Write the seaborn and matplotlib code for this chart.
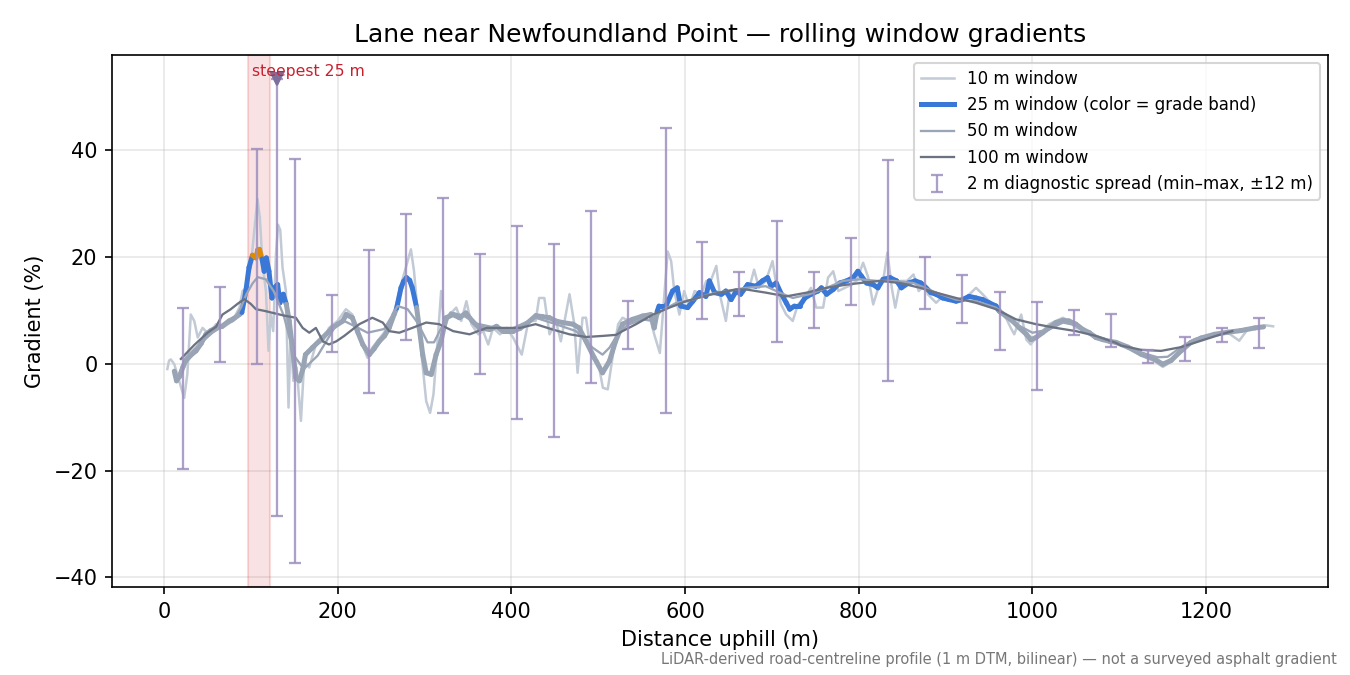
import numpy as np
import pandas as pd
import matplotlib
matplotlib.use("Agg")
import matplotlib.pyplot as plt
from matplotlib.collections import LineCollection
from matplotlib.lines import Line2D
import seaborn as sns

# ---------------- data ----------------
trace_10 = [(4,-1.0),(6,0.6),(8,0.8),(12,-0.1),(17.6,-3.2),(23.4,-6.4),(27,-2.0),(31,9.2),(35,8.0),(39,4.9),
    (44.5,6.7),(52,5.5),(60,7.4),(67.5,6.7),(79,8.0),(87,10.5),(90.6,13.6),(94.4,14.2),(100,18.0),(104,24.8),
    (107.8,30.8),(110.5,27.3),(113.6,18.6),(117.5,13.6),(120.5,2.4),(123,9.2),(125.9,6.1),(129,20.4),(131.5,26.0),
    (134,25.0),(136.6,18.0),(140.5,13.6),(143.5,-8.2),(146,6.1),(149,-3.2),(152.8,-0.7),(157.8,-10.7),(161.6,0.5),
    (167.4,-0.7),(175,3.6),(183,4.2),(190,6.7),(200,8.0),(209.6,10.2),(217,9.2),(219,8.0),(227,4.2),(234.5,1.1),
    (240,3.0),(252,5.5),(263,8.0),(271,13.6),(278.6,18.0),(284.4,21.4),(288,17.3),(292,9.8),(297,1.1),(302,-7.0),
    (306.5,-9.2),(310.4,-5.7),(315.4,4.9),(319.2,13.6),(323,6.7),(329,9.2),(336.6,10.5),(342.4,8.0),(348.3,11.7),
    (354,7.4),(362,5.5),(367.6,6.1),(373.4,3.6),(379,6.7),(387,5.5),(394.5,6.7),(402,4.9),(412,1.7),(419.7,8.0),
    (428,8.0),(432,12.3),(438,12.3),(444,5.5),(451.3,8.0),(457,4.2),(467,13.0),(472.5,7.4),(476.3,-1.7),(482,8.6),
    (486,8.6),(492,1.7),(499.7,0.5),(505.4,-4.5),(511,-4.8),(517,1.7),(523,7.4),(528,8.6),(536,8.0),(543.6,8.6),
    (551.3,9.2),(559,9.2),(564.5,5.5),(571,2.0),(575,10.5),(580,21.0),(584,19.2),(587.6,13.6),(593.5,9.2),(599,13.6),
    (605,10.5),(611,13.6),(618.6,13.0),(624.5,15.5),(628,14.8),(636,18.3),(640,13.0),(647,8.0),(651.5,13.6),(657,13.6),
    (664,13.6),(674,14.2),(679.5,17.6),(685,14.2),(693,15.5),(700.7,19.2),(705,14.8),(710.5,11.1),(716.5,9.2),(724,8.0),
    (730,11.1),(737.6,12.3),(745,14.2),(751,10.5),(759,10.5),(764.6,16.1),(770.6,17.3),(776.4,13.6),(784,14.2),
    (791.7,14.8),(797.5,15.5),(805,18.9),(811,16.1),(816.6,11.1),(822.5,14.2),(828,15.5),(833,20.8),(838,14.2),
    (842,10.5),(848,15.5),(855.6,15.5),(863,16.7),(869,13.6),(876.6,14.8),(879.5,13.0),(889,11.4),(896.6,12.6),
    (904,12.3),(912,11.7),(923,12.3),(935,14.2),(942.6,13.0),(950,11.7),(960,9.8),(967.6,9.2),(975,6.7),(979,5.5),
    (987,9.2),(993,4.5),(998,3.6),(1004,4.9),(1011.6,6.1),(1019,7.4),(1027,8.0),(1035,8.6),(1042,8.0),(1050,6.7),
    (1058,6.4),(1065.5,5.5),(1073,4.9),(1081,4.4),(1088.5,4.2),(1096,3.8),(1110,3.0),(1125,1.5),(1140,0.5),
    (1150,-0.6),(1160,0.4),(1171,2.2),(1182.5,4.0),(1194,4.9),(1210,5.6),(1225,5.8),(1238,4.3),(1248,6.5),
    (1258,6.6),(1268,7.2),(1277,7.0)]

trace_25 = [(12,-1.4),(14.6,-3.2),(18,-2.4),(22,-0.6),(25,0.5),(31,1.6),(37,2.4),(43,3.8),(48.4,5.5),(54,6.2),
    (60,6.7),(67,7.0),(75,8.0),(81,8.5),(87,9.2),(89.8,9.6),(92,11.5),(94.4,13.6),(98,18.0),(102,20.3),(106,19.8),
    (108,21.3),(110,21.4),(113,19.6),(115.5,17.3),(118,19.8),(121,17.3),(124.4,12.3),(127,14.2),(131,14.8),
    (133.6,11.4),(137.4,13.0),(141,11.1),(144.3,8.0),(148,3.0),(152,-2.6),(156,-3.2),(160,-1.0),(163,1.7),(171,3.0),
    (183,4.9),(194,6.7),(206,8.0),(210,9.2),(217,8.6),(223,6.0),(229,3.6),(236.5,1.7),(242,2.8),(248,4.2),(254,5.2),
    (259.4,6.7),(265,9.2),(268,10.4),(273,14.2),(276,15.4),(279.4,16.1),(283,15.6),(286,14.2),(291,10.5),(294,6.7),
    (298,1.7),(302,-1.7),(307.8,-2.0),(313.4,1.7),(319,4.2),(325,8.6),(333,9.2),(340.3,8.6),(347.7,9.5),(355,8.0),
    (363,6.7),(375,6.4),(383,7.0),(390,6.1),(401.5,6.1),(410,6.6),(417,7.4),(428.3,9.0),(436,8.8),(444,8.6),(451,8.0),
    (459,7.7),(471,7.4),(478,6.7),(486,4.2),(495.5,1.1),(505,-1.7),(513,0.5),(520,4.2),(528,7.4),(539.5,8.3),
    (551,8.9),(560.6,9.2),(564.5,6.7),(568,9.8),(570,10.8),(578,10.8),(585.6,13.6),(591,14.2),(595,10.8),(603,10.5),
    (609,11.7),(616.6,13.3),(624,12.6),(628,15.5),(634,13.3),(642,13.0),(647,13.6),(653,12.0),(659,13.6),(664,13.0),
    (672,14.8),(681.6,14.5),(689,15.5),(695,16.1),(699,14.5),(705,15.1),(711,13.0),(716.5,11.4),(720.5,10.2),
    (726,10.8),(732,10.8),(738,12.3),(745,13.0),(753,13.6),(757,14.2),(763,13.0),(770.6,13.9),(778,15.1),(786,15.5),
    (793.5,16.1),(799,17.3),(803,16.4),(809,15.1),(816.6,14.8),(822,14.2),(828,15.8),(836,16.1),(843.6,15.5),
    (849,14.2),(857,15.1),(865,15.5),(871.6,15.1),(877.5,14.2),(883,13.3),(889,13.0),(896.6,12.3),(904,12.0),
    (912,11.7),(919.5,12.0),(927,12.6),(935,12.3),(942.6,12.0),(950,11.4),(958,10.8),(962,9.8),(969.5,8.9),(977,8.0),
    (985,6.7),(993,5.5),(998.3,4.5),(1004,4.9),(1011.6,5.8),(1019,6.7),(1027,7.7),(1035,8.1),(1042,8.0),(1050,7.4),
    (1058,6.4),(1065.5,5.8),(1073,4.9),(1081,4.5),(1088.5,4.2),(1096,4.0),(1110,3.1),(1125,1.8),(1140,0.9),
    (1150,-0.1),(1159.5,0.6),(1171,2.4),(1182.5,4.0),(1194,4.8),(1209.5,5.5),(1225,5.9),(1240,6.2),(1256,6.7),
    (1266,6.9)]

trace_50 = [(12,-1.3),(16,-2.6),(25,1.1),(40.6,3.6),(56,5.8),(71.5,7.4),(80,8.0),(88.7,10.5),(95,13.0),(102,15.0),
    (108,16.2),(117.4,15.8),(126.7,13.5),(138,9.0),(150,1.5),(161,-1.0),(177,1.5),(190,5.0),(200,7.7),(207.6,8.0),
    (220,7.0),(234.5,5.8),(253.7,6.5),(262,8.8),(269,10.8),(280.6,10.2),(292,7.7),(303.6,4.0),(311,4.0),(322.5,7.7),
    (330,9.6),(345,9.0),(360,7.5),(380,6.8),(400,6.5),(428,8.6),(451,7.4),(474.5,6.1),(493.6,3.0),(505,1.7),(513,3.0),
    (524.6,6.1),(536,7.4),(551,8.3),(563,8.0),(572,9.8),(590,11.4),(609,12.0),(628,13.0),(647.6,13.6),(670,14.2),
    (693,14.5),(709,13.3),(724,12.3),(743,13.0),(763,14.2),(782,15.5),(801.6,15.8),(820.7,15.5),(840,15.5),
    (863,15.1),(889,13.3),(912,12.0),(935,11.7),(958,10.5),(981,7.4),(1000,5.8),(1019,6.4),(1035,7.7),(1050,7.2),
    (1073,5.2),(1096,3.9),(1102,3.7),(1125,2.1),(1144,1.2),(1155.6,1.3),(1171,3.1),(1186.5,4.6),(1206,5.4),
    (1225,5.9),(1244,6.5),(1253,6.7)]

trace_100 = [(19.6,0.9),(35,3.5),(50.3,5.8),(60,6.9),(67.5,9.2),(77,10.2),(84.8,11.2),(92.5,12.1),(100,11.2),
    (106,10.2),(115.5,9.9),(138.5,9.0),(152,8.6),(159.8,6.7),(167.4,5.8),(175,6.7),(183,4.2),(190,3.6),(198.6,4.2),
    (207.6,5.2),(225,7.4),(240,8.6),(252,7.7),(259.4,6.1),(271,5.8),(286,6.7),(302,7.7),(317,7.4),(333,6.1),(352,5.5),
    (371.5,6.7),(390.6,6.7),(410,6.7),(428,7.4),(447.6,6.4),(467,5.5),(486,5.0),(505,5.2),(520.6,5.4),(528,6.1),
    (543.6,7.4),(563,9.2),(582,10.5),(601.6,11.7),(621,12.6),(640,13.3),(659,13.9),(670,13.9),(693,13.3),
    (716.5,12.6),(740,13.3),(763,14.2),(786,14.8),(801.6,15.1),(824.5,15.5),(847.6,15.1),(870.6,14.2),(889,13.3),
    (912,12.3),(935,11.4),(958,10.2),(981,8.3),(1004,7.4),(1027,6.7),(1050,6.1),(1073,5.2),(1096,3.9),(1102,3.4),
    (1125,2.6),(1148,2.4),(1171,3.1),(1194,4.3),(1217,5.5),(1230,6.1)]

# 2 m diagnostic spread (min-max within +-12 m)
spread_x = [21.5, 64.5, 107, 129.7, 150.5, 193.4, 235.6, 278.6, 321, 364, 406.4, 449.4, 491.6, 534.6, 578,
            620, 662.4, 705.4, 748, 791, 833.6, 876, 918.8, 962.6, 1005, 1047.3, 1090.4, 1133, 1176, 1218, 1260.5]
spread_lo = [-19.7, 0.3, 0.0, -28.5, -37.3, 2.1, -5.5, 4.5, -9.3, -2.0, -10.4, -13.7, -3.7, 2.8, -9.3,
             8.3, 9.0, 4.1, 6.7, 11.0, -3.2, 10.3, 7.7, 2.5, -4.9, 5.4, 3.1, 0.1, 0.6, 4.0, 3.0]
spread_hi = [10.5, 14.3, 40.2, 53.3, 38.3, 12.8, 21.2, 28.0, 31.0, 20.6, 25.8, 22.4, 28.5, 11.8, 44.1,
             22.7, 17.2, 26.7, 17.2, 23.5, 38.1, 20.0, 16.6, 13.5, 11.6, 10.1, 9.3, 2.6, 5.0, 6.7, 8.5]
steep_index = 3
steep_window = (97, 122)
grade_bands = [10, 20]

title = "Lane near Newfoundland Point \u2014 rolling window gradients"
footer = "LiDAR-derived road-centreline profile (1 m DTM, bilinear) \u2014 not a surveyed asphalt gradient"

# ---------------- style ----------------
C10 = "#c2cad5"
C25_LOW = "#98a4b4"
C25_MID = "#3a78d8"
C25_HIGH = "#e08a00"
C50 = "#9aa5b8"
C100 = "#6b7383"
CERR = "#9d8fbf"

fig, ax = plt.subplots(figsize=(9, 4.5), dpi=150)
fig.subplots_adjust(left=0.083, right=0.984, top=0.919, bottom=0.130)

def frame(pairs):
    return pd.DataFrame(pairs, columns=["distance", "gradient"])

ax.axvspan(*steep_window, facecolor=(0.84, 0.15, 0.16, 0.13),
           edgecolor=(0.84, 0.15, 0.16, 0.16), lw=1.0, zorder=1)

sns.lineplot(data=frame(trace_10), x="distance", y="gradient", color=C10, lw=1.2,
             estimator=None, sort=False, ax=ax, zorder=2)

pts = frame(trace_25).to_numpy()
segs = np.stack([pts[:-1], pts[1:]], axis=1)
mid = (pts[:-1, 1] + pts[1:, 1]) / 2
cols = [C25_HIGH if m >= grade_bands[1] else (C25_MID if m >= grade_bands[0] else C25_LOW) for m in mid]
lc = LineCollection(segs, colors=cols, linewidths=2.4, capstyle="round", joinstyle="round", zorder=3)
ax.add_collection(lc)

sns.lineplot(data=frame(trace_50), x="distance", y="gradient", color=C50, lw=1.1,
             estimator=None, sort=False, ax=ax, zorder=4)
sns.lineplot(data=frame(trace_100), x="distance", y="gradient", color=C100, lw=1.1,
             estimator=None, sort=False, ax=ax, zorder=5)

lo = np.array(spread_lo); hi = np.array(spread_hi)
ctr = (lo + hi) / 2
eb = ax.errorbar(spread_x, ctr, yerr=[ctr - lo, hi - ctr], fmt="none", ecolor=CERR,
                 elinewidth=1.1, capsize=3, capthick=1.1, alpha=0.85, zorder=6)
ax.plot([spread_x[steep_index]], [spread_hi[steep_index]], marker="v", color="#7d6f9c",
        ms=6, ls="none", zorder=7)
ax.text(steep_window[0] + 4, 0.983, "steepest 25 m", transform=ax.get_xaxis_transform(),
        ha="left", va="top", fontsize=7.5, color="#c8202f", zorder=8)

ax.grid(True, color="#b0b0b0", alpha=0.3, lw=0.8)
ax.set_axisbelow(True)
ax.set_title(title, fontsize=12)
ax.set_xlabel("Distance uphill (m)", fontsize=10)
ax.set_ylabel("Gradient (%)", fontsize=10)

handles = [
    Line2D([], [], color=C10, lw=1.2),
    Line2D([], [], color=C25_MID, lw=2.4),
    Line2D([], [], color=C50, lw=1.1),
    Line2D([], [], color=C100, lw=1.1),
    eb,
]
labels = ["10 m window", "25 m window (color = grade band)", "50 m window", "100 m window",
          "2 m diagnostic spread (min\u2013max, \u00b112 m)"]
ax.legend(handles, labels, loc="upper right", fontsize=8)

fig.text(0.99, 0.012, footer, ha="right", va="bottom", fontsize=7, color="#777777")

fig.savefig("out.png", dpi=150)
